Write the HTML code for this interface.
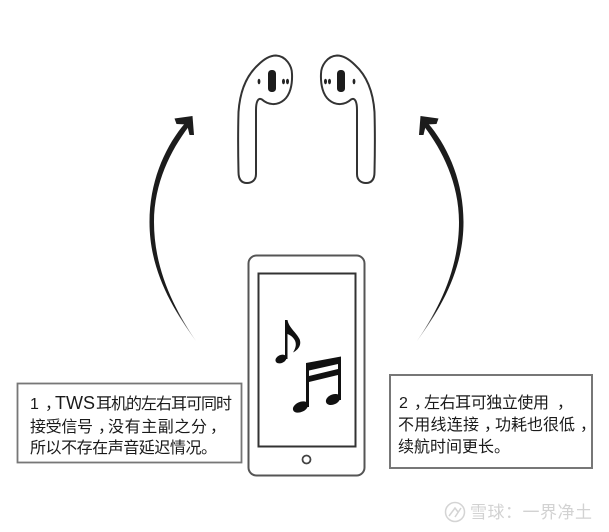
<!DOCTYPE html>
<html><head><meta charset="utf-8"><style>
html,body{margin:0;padding:0;background:#fff}
svg{display:block}
text{font-family:"Liberation Sans","Noto Sans CJK SC",sans-serif}
.t{font-size:16px;fill:#1a1a1a}
</style></head><body>
<svg width="609" height="532" viewBox="0 0 609 532" xmlns="http://www.w3.org/2000/svg">
<defs>
<linearGradient id="fl" x1="0" y1="0" x2="0" y2="1"><stop offset="0" stop-color="#1c1c1c"/><stop offset=".85" stop-color="#1c1c1c"/><stop offset="1" stop-color="#b0b0b0"/></linearGradient>
<g id="bud">
<path d="M238.500 172 C238 150 238 130 238.500 112 C240 90 247 75 258 65 C264 59 270 55.500 276 55.500 C286 56 292 66 292 74 C292.500 85 290 95 284 100 C277 106 268 105 262 99.500 C258 97 256 102 256 110 L256 174 C256 180 252 183 247 183 C242 183 238.500 180 238.500 172 Z" fill="#fff" stroke="#333" stroke-width="2"/>
<rect x="268" y="70" width="8" height="22" rx="3.500" fill="#1c1c1c"/>
<ellipse cx="259" cy="81.500" rx="1.400" ry="2.800" fill="#222"/>
<ellipse cx="283.500" cy="81.500" rx="1.500" ry="2.800" fill="#222"/>
<ellipse cx="287.500" cy="81.500" rx="1.500" ry="2.800" fill="#222"/>
</g>
<g id="arr">
<path d="M196 341 C172 308 149.500 270 149.500 222 C149.500 180 166 145 186 122 L190 125 C172 148 154 182 154 222 C154 270 175 310 196 341 Z" fill="url(#fl)"/>
<path d="M174.500 118.500 L192.500 116 L194 135 L189.500 135 L187 124.500 L176.500 124 Z" fill="#1c1c1c"/>
</g>
</defs>

<use href="#bud"/>
<use href="#bud" transform="matrix(-1 0 0 1 613 0)"/>
<use href="#arr"/>
<use href="#arr" transform="matrix(-1 0 0 1 613 0)"/>

<rect x="248.500" y="255.500" width="116" height="220" rx="8" fill="#fff" stroke="#555" stroke-width="2"/>
<rect x="258.500" y="273.500" width="97" height="173" fill="#fff" stroke="#333" stroke-width="2"/>
<circle cx="306.500" cy="459.500" r="4" fill="none" stroke="#444" stroke-width="1.800"/>

<ellipse cx="281" cy="359" rx="5.800" ry="4" transform="rotate(-25 281 359)" fill="#111"/>
<path d="M285 359 L285 320 L287.500 320 C289 328 296 332 299.500 339 C302 345 298 350 293 352.500 C296 348 297 343 294 339 C292 336 289.500 335 287.500 334 L287.500 359 Z" fill="#111"/>
<ellipse cx="300.500" cy="407" rx="8" ry="5" transform="rotate(-25 300.500 407)" fill="#111"/>
<ellipse cx="333" cy="399.500" rx="7.500" ry="5" transform="rotate(-25 333 399.500)" fill="#111"/>
<path d="M306 407 L306 363 L341 356.500 L341 400 L338 400 L338 375 L309 382 L309 407 Z M309 370.500 L338 364 L338 369 L309 376 Z" fill="#111" fill-rule="evenodd"/>

<rect x="17.500" y="383.500" width="224" height="79" fill="#fff" stroke="#777" stroke-width="1.800"/>
<rect x="390" y="375" width="202" height="93" fill="#fff" stroke="#777" stroke-width="2"/>

<text class="t" x="30" y="409">1</text>
<text class="t" x="45" y="409">，</text>
<text class="t" x="55" y="409" style="font-size:18px">TWS</text>
<text class="t" x="96" y="409" textLength="136">耳机的左右耳可同时</text>
<text class="t" x="30" y="432" textLength="63">接受信号</text>
<text class="t" x="98" y="432">，</text>
<text class="t" x="108" y="432" textLength="99">没有主副之分</text>
<text class="t" x="210" y="432">，</text>
<text class="t" x="30" y="453" textLength="187">所以不存在声音延迟情况。</text>

<text class="t" x="399" y="408">2</text>
<text class="t" x="414" y="408">，</text>
<text class="t" x="424" y="408" textLength="125">左右耳可独立使用</text>
<text class="t" x="557" y="408">，</text>
<text class="t" x="398" y="430" textLength="81">不用线连接</text>
<text class="t" x="484" y="430">，</text>
<text class="t" x="495" y="430" textLength="80">功耗也很低</text>
<text class="t" x="580" y="430">，</text>
<text class="t" x="398" y="452" textLength="112">续航时间更长。</text>

<circle cx="455" cy="512" r="9.500" fill="none" stroke="#d4d4d4" stroke-width="1.500"/>
<path d="M449 516 L455 508 L458 512 M455 517 L461 508" fill="none" stroke="#d4d4d4" stroke-width="1.500"/>
<text x="470" y="518" font-size="17" fill="#d2d2d2" textLength="122">雪球：一界净土</text>
</svg>
</body></html>
